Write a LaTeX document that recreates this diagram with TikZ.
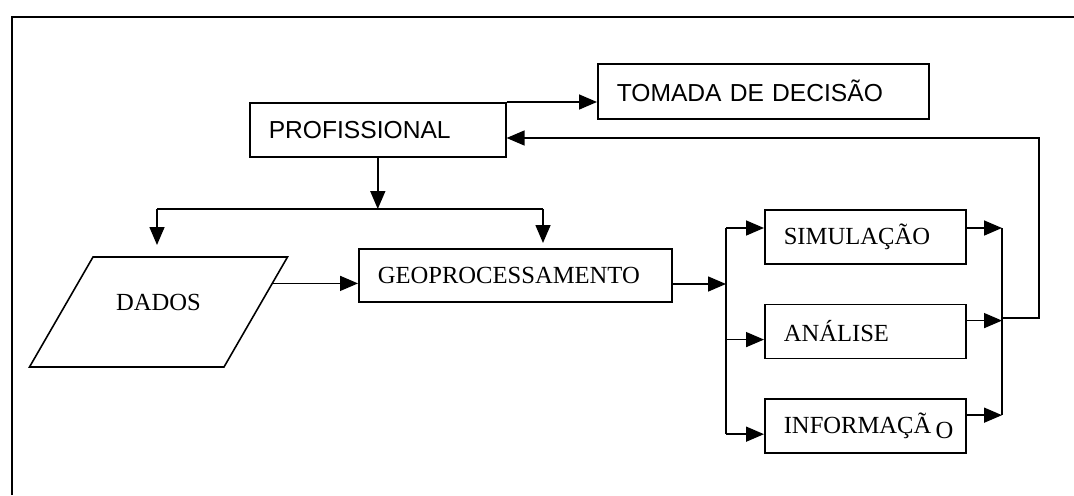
\documentclass[tikz,border=0pt]{standalone}
\usepackage{fontspec}
\setmainfont{Liberation Serif}
\newfontfamily\arialfont{Liberation Sans}
\usetikzlibrary{shapes.geometric, arrows.meta, positioning, calc}

\begin{document}
\begin{tikzpicture}[
    node distance=0.78cm,
    every node/.style={font=\fontsize{14}{16}\selectfont},
    box/.style={rectangle, draw, line width=0.9pt, anchor=north west, minimum height=1.08cm, inner xsep=0.38cm, inner ysep=0pt, align=left, text width=#1},
    sans/.style={font=\arialfont\fontsize{14}{16}\selectfont},
    databox/.style={trapezium, draw, line width=0.9pt, trapezium left angle=60, trapezium right angle=120, inner sep=0pt, minimum width=0pt, minimum height=0pt, text width=2.62cm, align=center, text height=1.06cm, text depth=1.14cm},
    arrow/.style={-{Triangle[length=0.36cm, width=0.3cm]}, line width=0.9pt},
    wire/.style={line width=0.9pt}
]
\useasboundingbox (0,0) rectangle (21.48,-9.9);
% Frame
\draw[wire] (0.24,-9.9) -- (0.24,-0.34) -- (21.48,-0.34);
% Boxes
\node[box=4.36cm, sans] (prof) at (4.98,-2.04) {PROFISSIONAL};
\node[box=5.86cm, sans, minimum height=1.10cm] (dec) at (11.94,-1.26) {TOMADA DE DECISÃO};
\node[databox] (dados) at (3.17,-6.24) {DADOS};
\node[box=5.50cm, minimum height=1.06cm] (geo) at (7.16,-4.96) {GEOPROCESSAMENTO};
\node[box=3.26cm] (sim) at (15.28,-4.18) {SIMULAÇÃO};
\node[box=3.26cm, below=of sim] (ana) {ANÁLISE};
\node[box=3.26cm, below=of ana] (inf) {INFORMAÇÃ\,\raisebox{-0.1cm}{O}};
% Junction points
\coordinate (ldrop) at (3.14,-4.18);
\coordinate (rdrop) at (10.86,-4.18);
\coordinate (fan) at (14.52,-5.68);
\coordinate (simin) at ($(sim.north west)+(0,-0.38)$);
\coordinate (anain) at ($(ana.north west)+(0,-0.72)$);
\coordinate (infin) at ($(inf.north west)+(0,-0.72)$);
\coordinate (simout) at ($(sim.north east)+(0,-0.38)$);
\coordinate (anaout) at ($(ana.north east)+(0,-0.34)$);
\coordinate (infout) at ($(inf.north east)+(0,-0.34)$);
\coordinate (gather) at (20.04,-6.36);
\coordinate (back) at (20.78,-2.76);
% Profissional outputs
\draw[arrow] (prof.north east) -- (prof.north east -| dec.west);
\draw[arrow] (prof.south) -- (prof.south |- ldrop);
\draw[wire] (ldrop) -- (rdrop);
\draw[arrow] (ldrop) -- ++(0,-0.72);
\draw[arrow] (rdrop) -- ++(0,-0.68);
% Processing
\draw[arrow] (dados.14) -- (dados.14 -| geo.west);
\draw[arrow] (fan -| geo.east) -- (fan);
\draw[wire] (fan |- simin) -- (fan |- infin);
\draw[arrow] (fan |- simin) -- (simin);
\draw[arrow] (fan |- anain) -- (anain);
\draw[arrow] (fan |- infin) -- (infin);
% Results
\draw[arrow] (simout) -- (simout -| gather);
\draw[arrow] (anaout) -- (anaout -| gather);
\draw[arrow] (infout) -- (infout -| gather);
\draw[wire] (simout -| gather) -- (infout -| gather);
\draw[arrow] (gather) -| (back) -- (back -| prof.east);
\end{tikzpicture}
\end{document}
